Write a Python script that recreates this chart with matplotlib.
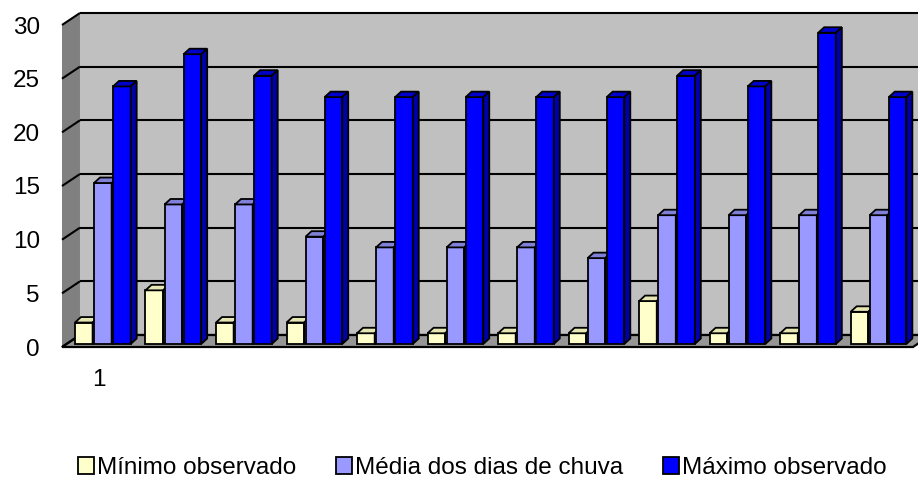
#!/usr/bin/env python3
"""
Dias de chuva por mes: minimo, media e maximo observados,
desenhado como colunas com efeito 3D (estilo Excel) em out.png.
"""

import matplotlib
matplotlib.use("Agg")
import matplotlib.pyplot as plt
from matplotlib.patches import Polygon, Patch

plt.rcParams["font.family"] = ["Liberation Sans", "DejaVu Sans"]

# dados
meses = list(range(12))
rotulos_x = ["1"]
minimo = [2, 5, 2, 2, 1, 1, 1, 1, 4, 1, 1, 3]
media = [15, 13, 13, 10, 9, 9, 9, 8, 12, 12, 12, 12]
maximo = [24, 27, 25, 23, 23, 23, 23, 23, 25, 24, 29, 23]
series = ["Mínimo observado", "Média dos dias de chuva", "Máximo observado"]
y_ticks = [0, 5, 10, 15, 20, 25, 30]

# cores: frente, topo, lateral
cores = [
    ("#FFFFCC", "#E6E6B3", "#CCCC99"),
    ("#9999FF", "#8080D9", "#6B6BC2"),
    ("#0000FF", "#0000CC", "#0000A8"),
]

# geometria do "3D" (unidades de dados)
XL, XR = -0.518, 11.55
DX, DY = 0.255, 1.12        # profundidade das paredes
BX, BY = 0.085, 0.51        # profundidade das colunas
BASE = 0.28                 # base das colunas sobre o piso
LARG = 0.25                 # largura de cada coluna
PASSO = 0.27                # distancia entre colunas do grupo
X0 = -0.334                 # inicio do grupo em relacao ao centro
LW = 1.3

fig = plt.figure(figsize=(9.18, 4.78), dpi=100)
ax = fig.add_axes([62 / 918, 1 - 347 / 478, 851 / 918, 322 / 478])
ax.set_xlim(XL, XR)
ax.set_ylim(0, 30)
ax.patch.set_visible(False)
for s in ax.spines.values():
    s.set_visible(False)


def poly(pts, fc, z, ec="black", lw=LW):
    p = Polygon(pts, closed=True, facecolor=fc, edgecolor=ec, linewidth=lw,
                zorder=z, clip_on=False, joinstyle="miter")
    ax.add_patch(p)


# paredes e piso
top = y_ticks[-1]
poly([(XL + DX, DY), (XR + DX, DY), (XR + DX, top + DY), (XL + DX, top + DY)],
     "#C0C0C0", 0, ec="none")
poly([(XL, 0), (XL + DX, DY), (XL + DX, top + DY), (XL, top)],
     "#808080", 0, ec="none")
poly([(XL, 0), (XR, 0), (XR + DX, DY), (XL + DX, DY)], "#969696", 1, lw=1.6)

# linhas de grade na parede do fundo e na lateral
for v in y_ticks:
    ax.plot([XL + DX, XR + DX], [v + DY, v + DY], color="black", lw=1.5,
            zorder=1, clip_on=False, solid_capstyle="butt")
    ax.plot([XL, XL + DX], [v, v + DY], color="black", lw=1.5,
            zorder=1, clip_on=False, solid_capstyle="butt")

# colunas
for k, valores in enumerate([minimo, media, maximo]):
    frente, topo, lado = cores[k]
    xs = [m + X0 + k * PASSO for m in meses]
    z = 3 + k
    ax.bar(xs, valores, width=LARG, bottom=BASE, align="edge", color=frente,
           edgecolor="black", linewidth=LW, zorder=z)
    for x, v in zip(xs, valores):
        y1 = BASE + v
        x1 = x + LARG
        poly([(x, y1), (x1, y1), (x1 + BX, y1 + BY), (x + BX, y1 + BY)], topo, z)
        poly([(x1, BASE), (x1, y1), (x1 + BX, y1 + BY), (x1 + BX, BASE + BY)],
             lado, z)

ax.set_yticks(y_ticks)
ax.set_yticklabels([str(v) for v in y_ticks], fontsize=17.5)
ax.set_xticks(meses[:len(rotulos_x)])
ax.set_xticklabels(rotulos_x, fontsize=17.5)
ax.tick_params(axis="y", length=0, pad=16)
ax.tick_params(axis="x", length=0, pad=16)

handles = [Patch(facecolor=c[0], edgecolor="black", linewidth=LW) for c in cores]
fig.legend(handles, series, loc="center", ncol=3, frameon=False,
           fontsize=17.5, bbox_to_anchor=(482 / 918, 1 - 468 / 478),
           handlelength=0.65, handleheight=0.65, handletextpad=0.12,
           columnspacing=1.65, borderpad=0)

fig.savefig("out.png", dpi=100)
